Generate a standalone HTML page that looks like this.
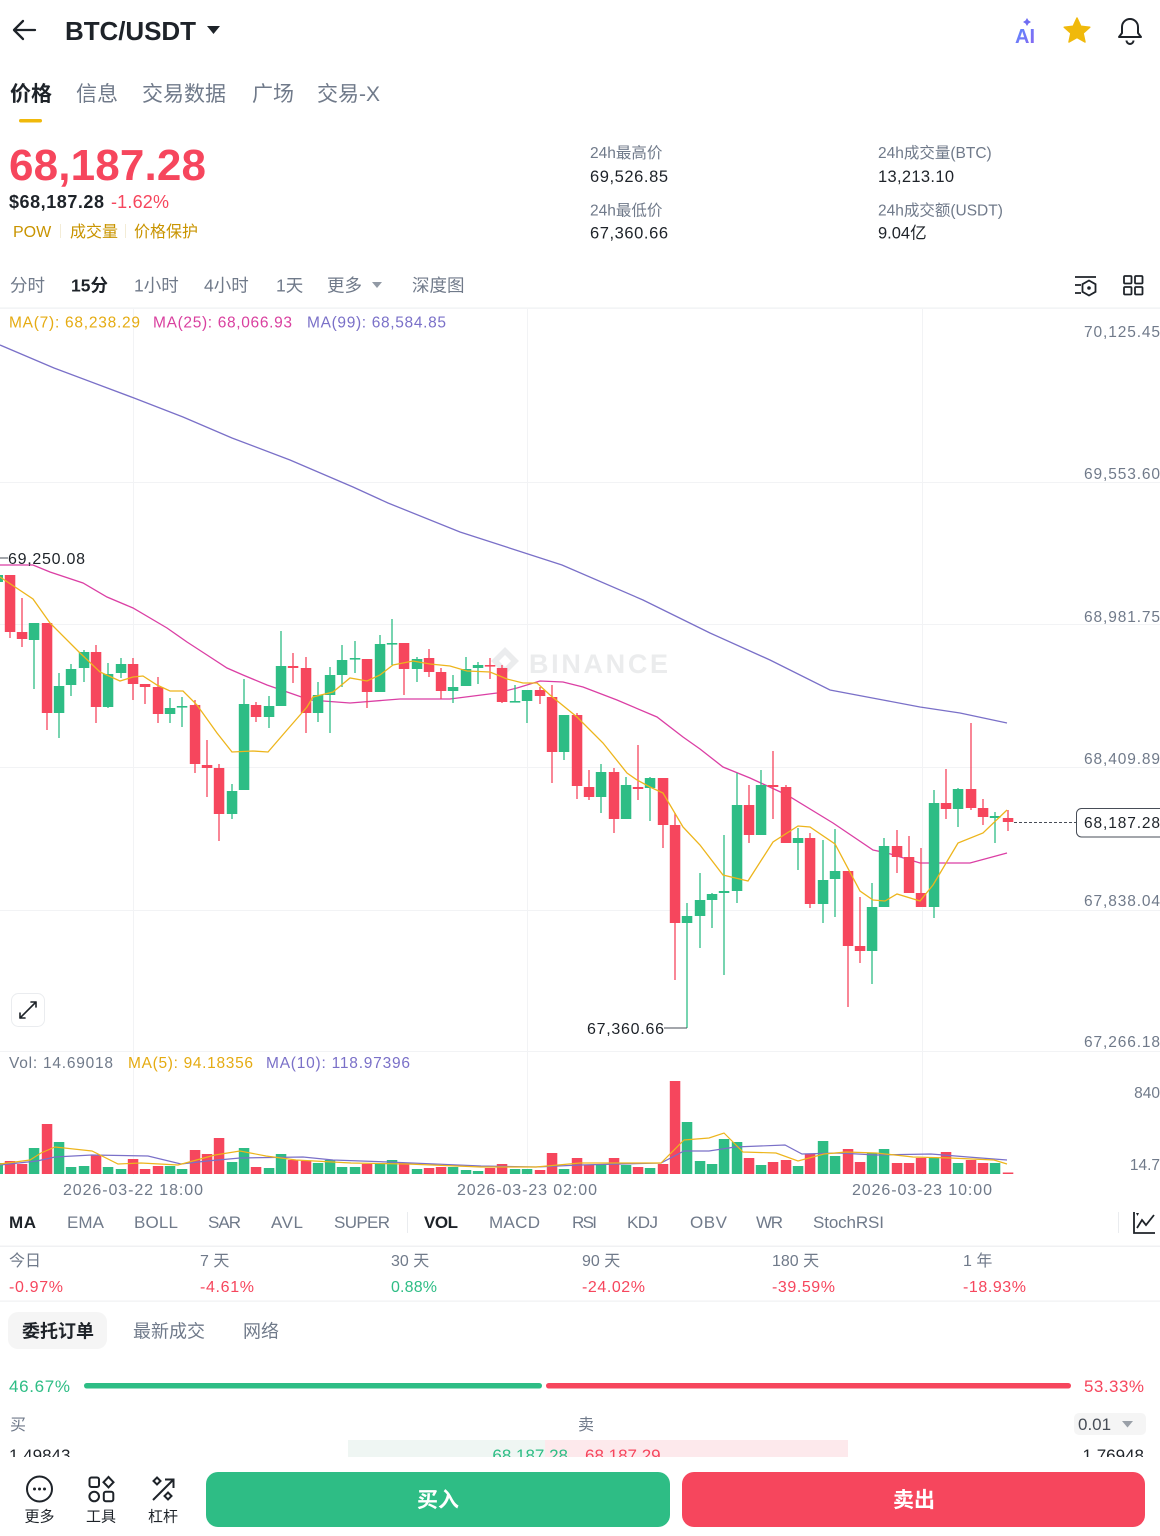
<!DOCTYPE html>
<html><head><meta charset="utf-8">
<style>
html,body{margin:0;padding:0;background:#fff;}
body{width:1160px;height:1536px;overflow:hidden;position:relative;}
svg{position:absolute;left:0;top:0;}
text{font-family:"Liberation Sans","Noto Sans CJK SC",sans-serif;}
.g{fill:#707a8a}
.d{fill:#1e2329}
.r{fill:#f6465d}
.gr{fill:#2ebd85}
.y{fill:#c99400}
</style></head>
<body>
<svg width="1160" height="1536" viewBox="0 0 1160 1536" xmlns="http://www.w3.org/2000/svg">
<defs>
<clipPath id="obclip"><rect x="0" y="1436" width="1160" height="21"/></clipPath>
<linearGradient id="aig" x1="0" y1="0" x2="1" y2="1"><stop offset="0" stop-color="#5b8cff"/><stop offset="1" stop-color="#8a63f0"/></linearGradient>
</defs>

<!-- header -->
<path d="M35,30 H14 M23,21 L14,30 L23,39" fill="none" stroke="#1e2329" stroke-width="2.3" stroke-linecap="round" stroke-linejoin="round"/>
<text x="65" y="40" font-size="26" font-weight="bold" class="d" textLength="131">BTC/USDT</text>
<path d="M207,26 L220,26 L213.5,34 Z" fill="#1e2329"/>
<text x="1015" y="43" font-size="20" font-weight="bold" fill="url(#aig)">AI</text>
<path d="M1027,18 l1.5,2.5 l2.5,1.5 l-2.5,1.5 l-1.5,2.5 l-1.5,-2.5 l-2.5,-1.5 l2.5,-1.5 z" fill="#6f6cf2"/>
<path d="M1077,18 L1080.8,26.3 L1089.8,27.2 L1083.1,33.2 L1085,42 L1077,37.5 L1069,42 L1070.9,33.2 L1064.2,27.2 L1073.2,26.3 Z" fill="#f0b90b" stroke="#f0b90b" stroke-width="1.5" stroke-linejoin="round"/>
<path d="M1119,37 H1141 L1138,33 V27 A8,8 0 0 0 1122,27 V33 Z M1126.5,40.5 A3.5,3.5 0 0 0 1133.5,40.5" fill="none" stroke="#1e2329" stroke-width="2" stroke-linejoin="round"/>

<!-- top tabs -->
<text x="10" y="101" font-size="21" font-weight="bold" class="d">价格</text>
<text x="76" y="101" font-size="21" class="g">信息</text>
<text x="142" y="101" font-size="21" class="g">交易数据</text>
<text x="252" y="101" font-size="21" class="g">广场</text>
<text x="317" y="101" font-size="21" class="g">交易-X</text>
<rect x="19" y="119" width="23" height="3.5" rx="1.7" fill="#f0b90b"/>

<!-- price block -->
<text x="9" y="180" font-size="44" font-weight="bold" class="r" textLength="197">68,187.28</text>
<text x="9" y="208" font-size="18" font-weight="bold" class="d" textLength="95">$68,187.28</text>
<text x="111" y="208" font-size="18" class="r" textLength="58">-1.62%</text>
<text x="13" y="237" font-size="16" class="y">POW</text>
<rect x="60" y="224" width="1" height="14" fill="#f3ecd6"/>
<text x="70" y="237" font-size="16" class="y">成交量</text>
<rect x="125" y="224" width="1" height="14" fill="#f3ecd6"/>
<text x="134" y="237" font-size="16" class="y">价格保护</text>

<text x="590" y="158" font-size="15.5" class="g">24h最高价</text>
<text x="590" y="182" font-size="16.5" class="d" textLength="78">69,526.85</text>
<text x="590" y="215.5" font-size="15.5" class="g">24h最低价</text>
<text x="590" y="238.5" font-size="16.5" class="d" textLength="78">67,360.66</text>
<text x="878" y="158" font-size="15.5" class="g">24h成交量(BTC)</text>
<text x="878" y="182" font-size="16.5" class="d" textLength="76">13,213.10</text>
<text x="878" y="215.5" font-size="15.5" class="g">24h成交额(USDT)</text>
<text x="878" y="238.5" font-size="16.5" class="d">9.04亿</text>

<!-- interval tabs -->
<text x="10" y="291.5" font-size="17.5" class="g">分时</text>
<text x="71" y="291.5" font-size="17.5" font-weight="bold" class="d">15分</text>
<text x="134" y="291.5" font-size="17.5" class="g">1小时</text>
<text x="204" y="291.5" font-size="17.5" class="g">4小时</text>
<text x="276" y="291.5" font-size="17.5" class="g">1天</text>
<text x="327" y="291.5" font-size="17.5" class="g">更多</text>
<path d="M372,282 L382,282 L377,288 Z" fill="#929aa5"/>
<text x="412" y="291.5" font-size="17.5" class="g">深度图</text>
<g fill="none" stroke="#1e2329" stroke-width="1.8">
<path d="M1075,277 H1096 M1075,285 H1081 M1075,293 H1081"/>
<path d="M1089,280.5 L1095.5,284.2 V291.8 L1089,295.5 L1082.5,291.8 V284.2 Z"/>
<rect x="1124" y="276" width="7.5" height="7.5" rx="1"/><rect x="1135" y="276" width="7.5" height="7.5" rx="1"/>
<rect x="1124" y="287" width="7.5" height="7.5" rx="1"/><rect x="1135" y="287" width="7.5" height="7.5" rx="1"/>
</g>
<circle cx="1089" cy="288" r="1.8" fill="#1e2329"/>
<rect x="0" y="307.5" width="1160" height="1.2" fill="#eef0f2"/>

<!-- grid -->
<g fill="#f2f3f5">
<rect x="0" y="482" width="1160" height="1"/>
<rect x="0" y="624" width="1160" height="1"/>
<rect x="0" y="767" width="1160" height="1"/>
<rect x="0" y="910" width="1160" height="1"/>
<rect x="0" y="1051" width="1160" height="1"/>
<rect x="133" y="309" width="1" height="866"/>
<rect x="527" y="309" width="1" height="866"/>
<rect x="922" y="309" width="1" height="866"/>
</g>

<!-- watermark -->
<g opacity="0.9">
<path d="M505,647 L519,661 L505,675 L491,661 Z M505,655 L511,661 L505,667 L499,661 Z" fill="#e9eaec" fill-rule="evenodd"/>
<text x="529" y="673" font-size="27" font-weight="bold" fill="#e9eaec" textLength="139">BINANCE</text>
</g>

<!-- MA legend -->
<text x="9" y="327.7" font-size="15.5" fill="#e5ab12" textLength="131">MA(7): 68,238.29</text>
<text x="153" y="327.7" font-size="15.5" fill="#d9409f" textLength="139">MA(25): 68,066.93</text>
<text x="307" y="327.7" font-size="15.5" fill="#7a70c8" textLength="139">MA(99): 68,584.85</text>

<!-- y axis labels -->
<g font-size="15.5" class="g">
<text x="1084" y="337" textLength="76">70,125.45</text>
<text x="1084" y="479" textLength="76">69,553.60</text>
<text x="1084" y="622" textLength="76">68,981.75</text>
<text x="1084" y="764" textLength="76">68,409.89</text>
<text x="1084" y="906" textLength="76">67,838.04</text>
<text x="1084" y="1047" textLength="76">67,266.18</text>
</g>

<!-- MA lines -->
<polyline fill="none" stroke="#7a70c8" stroke-width="1.3" points="0,345 54,368 134,398 183,417 232,438 290,460 353,487 388,503 460,532 562,565 643,600 710,633 770,660 830,690 883,700 920,707 960,713 1007,723"/>
<polyline fill="none" stroke="#db3fa4" stroke-width="1.3" points="0,565 33,565 50,572 83,583 107,597 133,608 167,628 187,642 207,655 227,668 243,675 267,685 290,693 310,700 350,703 400,699 450,699 497,693 517,688 540,681 563,682 583,687 617,700 657,717 683,737 700,749 723,767 750,778 787,795 833,823 873,850 887,853 920,863 970,863 1007,853"/>

<!-- candles green -->
<g fill="#2ebd85" stroke="#2ebd85">
<path fill="none" stroke-width="1.3" d="M34,623V689M59,673V738M71,664V696M84,650V682M108,663V708M121,658V678M170,698V723M182,697V727M232,784V819M244,679V790M269,696V728M281,631V706M318,682V722M330,667V733M342,645V687M355,641V673M380,635V692M392,619V665M417,657V682M453,675V703M466,657V686M478,662V684M515,685V701M527,690V723M564,715V760M601,764V813M626,777V819M650,777V821M687,903V1028M700,873V948M712,893V928M724,835V975M737,773V903M761,770V835M798,828V870M823,840V923M835,829V917M872,883V984M884,838V907M934,790V918M958,788V827M995,812V843"/>
<g stroke="none">
<rect x="-3" y="575" width="6" height="7"/>
<rect x="28.8" y="623" width="10.5" height="17"/>
<rect x="53.8" y="686" width="10.5" height="27"/>
<rect x="65.8" y="669" width="10.5" height="16"/>
<rect x="78.8" y="652" width="10.5" height="16"/>
<rect x="102.8" y="674" width="10.5" height="33"/>
<rect x="115.8" y="664" width="10.5" height="9"/>
<rect x="164.8" y="708" width="10.5" height="6"/>
<rect x="176.8" y="706" width="10.5" height="1.6"/>
<rect x="226.8" y="791" width="10.5" height="23"/>
<rect x="238.8" y="704" width="10.5" height="86"/>
<rect x="263.8" y="706" width="10.5" height="11"/>
<rect x="275.8" y="666" width="10.5" height="40"/>
<rect x="312.8" y="695" width="10.5" height="18"/>
<rect x="324.8" y="675" width="10.5" height="20"/>
<rect x="336.8" y="660" width="10.5" height="15"/>
<rect x="349.8" y="658" width="10.5" height="1.6"/>
<rect x="374.8" y="644" width="10.5" height="48"/>
<rect x="386.8" y="643" width="10.5" height="1.6"/>
<rect x="411.8" y="659" width="10.5" height="10"/>
<rect x="447.8" y="687" width="10.5" height="4"/>
<rect x="460.8" y="669" width="10.5" height="17"/>
<rect x="472.8" y="665" width="10.5" height="3"/>
<rect x="509.8" y="701" width="10.5" height="1.6"/>
<rect x="521.8" y="690" width="10.5" height="11"/>
<rect x="558.8" y="715" width="10.5" height="37"/>
<rect x="595.8" y="772" width="10.5" height="25"/>
<rect x="620.8" y="785" width="10.5" height="34"/>
<rect x="644.8" y="778" width="10.5" height="10"/>
<rect x="681.8" y="916" width="10.5" height="7"/>
<rect x="694.8" y="900" width="10.5" height="16"/>
<rect x="706.8" y="894" width="10.5" height="6"/>
<rect x="718.8" y="891" width="10.5" height="2"/>
<rect x="731.8" y="805" width="10.5" height="86"/>
<rect x="755.8" y="785" width="10.5" height="50"/>
<rect x="792.8" y="838" width="10.5" height="5"/>
<rect x="817.8" y="880" width="10.5" height="24"/>
<rect x="829.8" y="871" width="10.5" height="8"/>
<rect x="866.8" y="907" width="10.5" height="44"/>
<rect x="878.8" y="846" width="10.5" height="61"/>
<rect x="928.8" y="803" width="10.5" height="104"/>
<rect x="952.8" y="789" width="10.5" height="20"/>
<rect x="989.8" y="816" width="10.5" height="2"/>
</g></g>

<!-- candles red -->
<g fill="#f6465d" stroke="#f6465d">
<path fill="none" stroke-width="1.3" d="M10,575V638M22,598V647M47,623V730M96,645V723M133,658V700M145,684V704M158,677V723M195,700V773M207,740V797M219,764V841M256,702V722M293,653V683M306,657V733M367,659V708M404,643V695M429,649V677M441,668V699M490,658V679M502,665V703M540,687V704M552,685V783M577,713V799M589,770V800M614,768V833M638,745V800M663,778V848M675,813V980M749,785V843M773,751V819M786,785V843M810,833V908M848,871V1007M860,897V963M897,830V873M909,836V893M921,848V907M946,769V819M971,723V810M983,799V825M1008,810V831"/>
<g stroke="none">
<rect x="4.8" y="575" width="10.5" height="57"/>
<rect x="16.8" y="632" width="10.5" height="7"/>
<rect x="41.8" y="623" width="10.5" height="90"/>
<rect x="90.8" y="652" width="10.5" height="55"/>
<rect x="127.8" y="664" width="10.5" height="20"/>
<rect x="139.8" y="684" width="10.5" height="3"/>
<rect x="152.8" y="687" width="10.5" height="27"/>
<rect x="189.8" y="705" width="10.5" height="59"/>
<rect x="201.8" y="765" width="10.5" height="3"/>
<rect x="213.8" y="768" width="10.5" height="46"/>
<rect x="250.8" y="705" width="10.5" height="12"/>
<rect x="287.8" y="666" width="10.5" height="2"/>
<rect x="300.8" y="668" width="10.5" height="45"/>
<rect x="361.8" y="659" width="10.5" height="33"/>
<rect x="398.8" y="643" width="10.5" height="26"/>
<rect x="423.8" y="658" width="10.5" height="14"/>
<rect x="435.8" y="672" width="10.5" height="19"/>
<rect x="484.8" y="665" width="10.5" height="1.6"/>
<rect x="496.8" y="668" width="10.5" height="34"/>
<rect x="534.8" y="690" width="10.5" height="6"/>
<rect x="546.8" y="697" width="10.5" height="55"/>
<rect x="571.8" y="715" width="10.5" height="71"/>
<rect x="583.8" y="787" width="10.5" height="10"/>
<rect x="608.8" y="772" width="10.5" height="47"/>
<rect x="632.8" y="787" width="10.5" height="2"/>
<rect x="657.8" y="778" width="10.5" height="47"/>
<rect x="669.8" y="825" width="10.5" height="98"/>
<rect x="743.8" y="805" width="10.5" height="30"/>
<rect x="767.8" y="785" width="10.5" height="2"/>
<rect x="780.8" y="787" width="10.5" height="56"/>
<rect x="804.8" y="838" width="10.5" height="66"/>
<rect x="842.8" y="871" width="10.5" height="75"/>
<rect x="854.8" y="946" width="10.5" height="5"/>
<rect x="891.8" y="846" width="10.5" height="11"/>
<rect x="903.8" y="857" width="10.5" height="36"/>
<rect x="915.8" y="893" width="10.5" height="14"/>
<rect x="940.8" y="803" width="10.5" height="6"/>
<rect x="965.8" y="789" width="10.5" height="19"/>
<rect x="977.8" y="808" width="10.5" height="9"/>
<rect x="1002.8" y="818" width="10.5" height="4"/>
</g></g>

<polyline fill="none" stroke="#edb51c" stroke-width="1.3" points="0,577 33,599 50,623 80,653 100,672 120,681 133,677 143,676 157,685 170,691 183,691 197,705 217,733 232,752 253,751 268,752 287,730 307,707 313,697 333,692 350,678 367,681 380,675 393,665 413,661 430,664 450,666 467,671 490,672 507,679 523,683 537,683 550,695 577,717 603,743 627,773 637,780 650,787 663,793 683,827 700,845 723,875 748,881 773,842 798,826 810,827 835,844 860,891 873,900 885,901 897,894 920,901 933,885 958,843 983,833 1007,810"/>

<!-- high/low labels -->
<rect x="0" y="557.5" width="8" height="1" fill="#474d57"/>
<text x="8" y="564" font-size="16" class="d" textLength="77">69,250.08</text>
<rect x="664" y="1027.5" width="23" height="1" fill="#474d57"/>
<text x="587" y="1034" font-size="16" class="d" textLength="77">67,360.66</text>

<!-- current price -->
<line x1="1014" y1="822.5" x2="1076" y2="822.5" stroke="#474d57" stroke-width="1" stroke-dasharray="3,2"/>
<rect x="1076.5" y="808.5" width="90" height="28.5" rx="5" fill="#fff" stroke="#474d57" stroke-width="1"/>
<text x="1084" y="828" font-size="15.5" class="d" textLength="76">68,187.28</text>

<!-- expand icon -->
<rect x="11.5" y="993.5" width="33" height="33" rx="7" fill="#fff" stroke="#eaecef"/>
<g stroke="#1e2329" stroke-width="1.6" fill="none" stroke-linecap="round">
<path d="M20,1018 L36,1002 M36,1002 h-5 M36,1002 v5 M20,1018 h5 M20,1018 v-5"/>
</g>

<!-- volume -->
<text x="9" y="1068" font-size="15.5" class="g" textLength="104">Vol: 14.69018</text>
<text x="128" y="1068" font-size="15.5" fill="#e5ab12" textLength="125">MA(5): 94.18356</text>
<text x="266" y="1068" font-size="15.5" fill="#7a70c8" textLength="144">MA(10): 118.97396</text>
<text x="1160" y="1098" font-size="15.5" class="g" text-anchor="end">840</text>
<text x="1160" y="1170" font-size="15.5" class="g" text-anchor="end">14.7</text>

<g fill="#2ebd85">
<rect x="-3" y="1163" width="6" height="11"/>
<rect x="28.8" y="1148" width="10.5" height="26"/>
<rect x="53.8" y="1142" width="10.5" height="32"/>
<rect x="65.8" y="1167" width="10.5" height="7"/>
<rect x="78.8" y="1166" width="10.5" height="8"/>
<rect x="102.8" y="1167" width="10.5" height="7"/>
<rect x="115.8" y="1169" width="10.5" height="5"/>
<rect x="164.8" y="1166" width="10.5" height="8"/>
<rect x="176.8" y="1169" width="10.5" height="5"/>
<rect x="226.8" y="1162" width="10.5" height="12"/>
<rect x="238.8" y="1148" width="10.5" height="26"/>
<rect x="263.8" y="1168" width="10.5" height="6"/>
<rect x="275.8" y="1154" width="10.5" height="20"/>
<rect x="312.8" y="1163" width="10.5" height="11"/>
<rect x="324.8" y="1160" width="10.5" height="14"/>
<rect x="336.8" y="1167" width="10.5" height="7"/>
<rect x="349.8" y="1167" width="10.5" height="7"/>
<rect x="374.8" y="1163" width="10.5" height="11"/>
<rect x="386.8" y="1160" width="10.5" height="14"/>
<rect x="411.8" y="1169" width="10.5" height="5"/>
<rect x="447.8" y="1167" width="10.5" height="7"/>
<rect x="460.8" y="1170" width="10.5" height="4"/>
<rect x="472.8" y="1171" width="10.5" height="3"/>
<rect x="509.8" y="1169" width="10.5" height="5"/>
<rect x="521.8" y="1169" width="10.5" height="5"/>
<rect x="558.8" y="1169" width="10.5" height="5"/>
<rect x="595.8" y="1165" width="10.5" height="9"/>
<rect x="620.8" y="1165" width="10.5" height="9"/>
<rect x="644.8" y="1168" width="10.5" height="6"/>
<rect x="681.8" y="1122" width="10.5" height="52"/>
<rect x="694.8" y="1161" width="10.5" height="13"/>
<rect x="706.8" y="1164" width="10.5" height="10"/>
<rect x="718.8" y="1139" width="10.5" height="35"/>
<rect x="731.8" y="1142" width="10.5" height="32"/>
<rect x="755.8" y="1165" width="10.5" height="9"/>
<rect x="792.8" y="1166" width="10.5" height="8"/>
<rect x="817.8" y="1141" width="10.5" height="33"/>
<rect x="829.8" y="1156" width="10.5" height="18"/>
<rect x="866.8" y="1153" width="10.5" height="21"/>
<rect x="878.8" y="1149" width="10.5" height="25"/>
<rect x="928.8" y="1158" width="10.5" height="16"/>
<rect x="952.8" y="1163" width="10.5" height="11"/>
<rect x="989.8" y="1163" width="10.5" height="11"/>
</g>
<g fill="#f6465d">
<rect x="4.8" y="1161" width="10.5" height="13"/>
<rect x="16.8" y="1164" width="10.5" height="10"/>
<rect x="41.8" y="1124" width="10.5" height="50"/>
<rect x="90.8" y="1155" width="10.5" height="19"/>
<rect x="127.8" y="1159" width="10.5" height="15"/>
<rect x="139.8" y="1169" width="10.5" height="5"/>
<rect x="152.8" y="1166" width="10.5" height="8"/>
<rect x="189.8" y="1150" width="10.5" height="24"/>
<rect x="201.8" y="1154" width="10.5" height="20"/>
<rect x="213.8" y="1138" width="10.5" height="36"/>
<rect x="250.8" y="1167" width="10.5" height="7"/>
<rect x="287.8" y="1160" width="10.5" height="14"/>
<rect x="300.8" y="1161" width="10.5" height="13"/>
<rect x="361.8" y="1164" width="10.5" height="10"/>
<rect x="398.8" y="1163" width="10.5" height="11"/>
<rect x="423.8" y="1168" width="10.5" height="6"/>
<rect x="435.8" y="1167" width="10.5" height="7"/>
<rect x="484.8" y="1168" width="10.5" height="6"/>
<rect x="496.8" y="1164" width="10.5" height="10"/>
<rect x="534.8" y="1170" width="10.5" height="4"/>
<rect x="546.8" y="1153" width="10.5" height="21"/>
<rect x="571.8" y="1158" width="10.5" height="16"/>
<rect x="583.8" y="1165" width="10.5" height="9"/>
<rect x="608.8" y="1158" width="10.5" height="16"/>
<rect x="632.8" y="1167" width="10.5" height="7"/>
<rect x="657.8" y="1164" width="10.5" height="10"/>
<rect x="669.8" y="1081" width="10.5" height="93"/>
<rect x="743.8" y="1158" width="10.5" height="16"/>
<rect x="767.8" y="1162" width="10.5" height="12"/>
<rect x="780.8" y="1160" width="10.5" height="14"/>
<rect x="804.8" y="1154" width="10.5" height="20"/>
<rect x="842.8" y="1149" width="10.5" height="25"/>
<rect x="854.8" y="1162" width="10.5" height="12"/>
<rect x="891.8" y="1163" width="10.5" height="11"/>
<rect x="903.8" y="1163" width="10.5" height="11"/>
<rect x="915.8" y="1158" width="10.5" height="16"/>
<rect x="940.8" y="1152" width="10.5" height="22"/>
<rect x="965.8" y="1160" width="10.5" height="14"/>
<rect x="977.8" y="1163" width="10.5" height="11"/>
<rect x="1002.8" y="1172.5" width="10.5" height="1.5"/>
</g>
<polyline fill="none" stroke="#7a70c8" stroke-width="1.2" points="0,1165 37,1161 55,1157 92,1155 148,1156 181,1164 207,1161 240,1158 303,1157 333,1160 388,1162 481,1166 536,1167 580,1165 661,1163 684,1151 709,1151 735,1147 785,1145 802,1154 839,1153 876,1155 931,1154 968,1157 1007,1160"/>
<polyline fill="none" stroke="#edb51c" stroke-width="1.2" points="0,1164 30,1160 41,1153 55,1147 92,1151 118,1164 141,1163 178,1165 215,1155 240,1151 266,1156 296,1160 351,1163 407,1164 481,1167 536,1167 580,1163 661,1163 684,1140 709,1138 724,1133 743,1152 776,1153 798,1161 824,1154 846,1152 876,1153 913,1157 950,1158 994,1160 1007,1164"/>

<!-- dates -->
<g font-size="16" class="g">
<text x="63" y="1195" textLength="140">2026-03-22 18:00</text>
<text x="457" y="1195" textLength="140">2026-03-23 02:00</text>
<text x="852" y="1195" textLength="140">2026-03-23 10:00</text>
</g>

<!-- indicator tabs -->
<g font-size="17" class="g">
<text x="9" y="1228" font-weight="bold" class="d" textLength="27">MA</text>
<text x="67" y="1228" textLength="37">EMA</text>
<text x="134" y="1228" textLength="44">BOLL</text>
<text x="208" y="1228" textLength="33">SAR</text>
<text x="271" y="1228" textLength="32">AVL</text>
<text x="334" y="1228" textLength="56">SUPER</text>
<text x="424" y="1228" font-weight="bold" class="d" textLength="34">VOL</text>
<text x="489" y="1228" textLength="51">MACD</text>
<text x="572" y="1228" textLength="25">RSI</text>
<text x="627" y="1228" textLength="31">KDJ</text>
<text x="690" y="1228" textLength="37">OBV</text>
<text x="756" y="1228" textLength="27">WR</text>
<text x="813" y="1228" textLength="71">StochRSI</text>
</g>
<rect x="407" y="1212" width="1" height="21" fill="#eaecef"/>
<rect x="1118" y="1212" width="1" height="21" fill="#eaecef"/>
<path d="M1134,1212 V1233 H1155 M1137,1228 L1142,1220 L1146,1225 L1154,1215" fill="none" stroke="#1e2329" stroke-width="1.8"/>
<path d="M1136,1213 l3,0 l-1.5,3 z" fill="#1e2329"/>
<rect x="0" y="1245.5" width="1160" height="1.5" fill="#f0f1f3"/>

<!-- periods -->
<g font-size="16">
<text x="9" y="1266" class="g">今日</text>
<text x="200" y="1266" class="g">7 天</text>
<text x="391" y="1266" class="g">30 天</text>
<text x="582" y="1266" class="g">90 天</text>
<text x="772" y="1266" class="g">180 天</text>
<text x="963" y="1266" class="g">1 年</text>
<text x="9" y="1292" class="r" textLength="54">-0.97%</text>
<text x="200" y="1292" class="r" textLength="54">-4.61%</text>
<text x="391" y="1292" class="gr" textLength="46">0.88%</text>
<text x="582" y="1292" class="r" textLength="63">-24.02%</text>
<text x="772" y="1292" class="r" textLength="63">-39.59%</text>
<text x="963" y="1292" class="r" textLength="63">-18.93%</text>
</g>
<rect x="0" y="1300.5" width="1160" height="1.2" fill="#f0f1f3"/>

<!-- order book tabs -->
<rect x="8" y="1312" width="99" height="37" rx="10" fill="#f5f5f5"/>
<text x="22" y="1337.5" font-size="18" font-weight="bold" class="d">委托订单</text>
<text x="133" y="1337.5" font-size="18" class="g">最新成交</text>
<text x="243" y="1337.5" font-size="18" class="g">网络</text>

<text x="9" y="1392" font-size="17" class="gr" textLength="61">46.67%</text>
<rect x="84" y="1383" width="458" height="5.5" rx="2.7" fill="#2ebd85"/>
<rect x="546" y="1383" width="525" height="5.5" rx="2.7" fill="#f6465d"/>
<text x="1084" y="1392" font-size="17" class="r" textLength="60">53.33%</text>

<text x="10" y="1430" font-size="16" class="g">买</text>
<text x="578" y="1430" font-size="16" class="g">卖</text>
<rect x="1074" y="1413" width="72" height="22" rx="5" fill="#f5f5f5"/>
<text x="1078" y="1430" font-size="17" fill="#474d57">0.01</text>
<path d="M1122,1421 L1133,1421 L1127.5,1427.5 Z" fill="#9aa0a8"/>

<g clip-path="url(#obclip)">
<rect x="348" y="1440" width="197" height="20" fill="#eff6f3"/>
<rect x="545" y="1440" width="303" height="20" fill="#fde9ec"/>
<text x="9" y="1461" font-size="17" class="d">1.49843</text>
<text x="568" y="1461" font-size="17" class="gr" text-anchor="end">68,187.28</text>
<text x="585" y="1461" font-size="17" class="r">68,187.29</text>
<text x="1144" y="1461" font-size="17" class="d" text-anchor="end">1.76948</text>
</g>

<!-- bottom bar -->
<g fill="none" stroke="#1e2329" stroke-width="2">
<circle cx="39.5" cy="1489" r="12.5"/>
<rect x="89.5" y="1477.5" width="9.5" height="9.5" rx="2"/>
<path d="M108.5,1477 L113.5,1482.2 L108.5,1487.4 L103.5,1482.2 Z"/>
<circle cx="94.2" cy="1496.5" r="4.8"/>
<rect x="103.8" y="1491.8" width="9.5" height="9.5" rx="2"/>
<path d="M153,1500 L173,1480 M165,1479.5 H173.5 V1488"/>
<path d="M157,1477.5 L160.5,1481 L157,1484.5 L153.5,1481 Z"/>
<path d="M168,1492.5 L171.5,1496 L168,1499.5 L164.5,1496 Z"/>
</g>
<circle cx="34.5" cy="1489" r="1.5" fill="#1e2329"/><circle cx="39.5" cy="1489" r="1.5" fill="#1e2329"/><circle cx="44.5" cy="1489" r="1.5" fill="#1e2329"/>
<text x="39.5" y="1521.5" font-size="15" class="d" text-anchor="middle">更多</text>
<text x="101" y="1521.5" font-size="15" class="d" text-anchor="middle">工具</text>
<text x="163" y="1521.5" font-size="15" class="d" text-anchor="middle">杠杆</text>

<rect x="206" y="1472" width="464" height="55" rx="12" fill="#2ebd85"/>
<text x="438" y="1507" font-size="21" font-weight="bold" fill="#fff" text-anchor="middle">买入</text>
<rect x="682" y="1472" width="463" height="55" rx="12" fill="#f6465d"/>
<text x="914" y="1507" font-size="21" font-weight="bold" fill="#fff" text-anchor="middle">卖出</text>
</svg>
</body></html>
